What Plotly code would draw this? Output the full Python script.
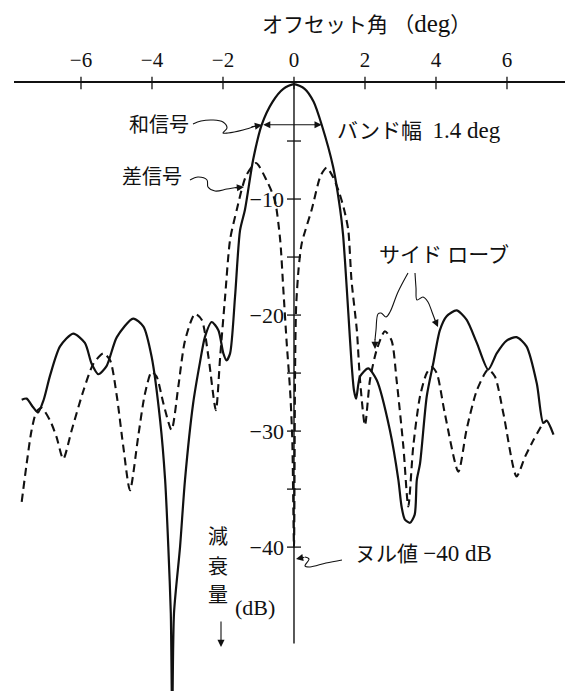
import plotly.graph_objects as go

# Sum pattern (和信号): offset angle in degrees and attenuation in dB
SUM_DEG = [-7.67, -7.53, -7.36, -7.21, -7.05, -6.87, -6.59, -6.22, -5.89, -5.70,
           -5.51, -5.28, -4.99, -4.53, -4.24, -4.01, -3.77, -3.63, -3.54, -3.47,
           -3.43, -3.38, -3.21, -3.07, -2.84, -2.65, -2.51, -2.32, -2.13, -1.99,
           -1.90, -1.80, -1.66, -1.52, -1.38, -1.15, -0.91, -0.60, -0.30, 0.00,
           0.30, 0.55, 0.78, 1.10, 1.30, 1.38, 1.44, 1.53, 1.62, 1.69,
           1.75, 1.86, 2.09, 2.33, 2.70, 2.94, 3.03, 3.12, 3.27, 3.40,
           3.46, 3.55, 3.74, 3.92, 4.11, 4.30, 4.58, 4.86, 5.15, 5.47,
           5.71, 5.99, 6.27, 6.55, 6.84, 7.02, 7.12, 7.31]
SUM_DB = [-27.3, -27.2, -27.9, -28.4, -27.3, -25.2, -22.7, -21.6, -22.4, -24.2,
          -25.1, -24.4, -21.9, -20.3, -21.0, -23.6, -29.1, -34.2, -40.0, -45.7,
          -55.0, -45.7, -40.0, -34.2, -27.6, -24.1, -21.9, -20.6, -21.3, -23.3,
          -23.9, -23.3, -18.4, -12.7, -10.9, -6.6, -3.6, -1.6, -0.5, -0.1,
          -0.5, -1.6, -3.6, -7.2, -10.9, -13.0, -15.5, -19.8, -24.1, -26.5,
          -27.2, -25.3, -24.6, -25.6, -29.9, -34.2, -36.5, -37.6, -37.9, -37.2,
          -34.2, -32.8, -27.0, -24.2, -21.3, -20.1, -19.6, -20.4, -22.4, -24.7,
          -23.3, -22.2, -21.9, -22.7, -25.9, -29.3, -29.1, -30.3]

# Difference pattern (差信号)
DIFF_DEG = [-7.67, -7.53, -7.39, -7.25, -7.11, -6.87, -6.69, -6.50, -6.26, -5.93,
            -5.65, -5.37, -5.18, -4.99, -4.81, -4.62, -4.39, -4.20, -4.01, -3.87,
            -3.68, -3.45, -3.26, -3.07, -2.79, -2.60, -2.41, -2.20, -2.08, -1.94,
            -1.80, -1.61, -1.35, -1.07, -0.77, -0.54, -0.39, -0.30, -0.21, -0.11,
            -0.05, 0.00, 0.03, 0.06, 0.13, 0.22, 0.50, 0.75, 0.92, 1.10,
            1.28, 1.42, 1.53, 1.62, 1.77, 1.86, 2.00, 2.14, 2.33, 2.56,
            2.75, 2.89, 3.08, 3.22, 3.36, 3.55, 3.74, 3.88, 4.02, 4.25,
            4.63, 4.86, 5.15, 5.47, 5.66, 5.90, 6.27, 6.51, 6.74, 6.98]
DIFF_DB = [-36.1, -32.8, -29.9, -28.3, -28.0, -29.1, -30.5, -32.4, -29.9, -26.5,
           -24.2, -23.3, -23.9, -27.0, -31.3, -35.1, -30.5, -26.8, -24.9, -25.3,
           -27.6, -29.9, -26.2, -22.2, -19.9, -20.4, -23.6, -28.2, -23.6, -18.4,
           -13.5, -10.9, -8.0, -6.9, -8.4, -10.1, -13.5, -17.8, -22.2, -26.5,
           -30.5, -40.0, -25.0, -19.3, -16.0, -13.8, -10.9, -8.0, -7.3, -8.1,
           -9.5, -11.0, -12.7, -17.0, -21.3, -25.6, -29.5, -25.6, -23.0, -21.4,
           -22.2, -25.6, -31.3, -36.5, -31.3, -27.0, -25.0, -24.5, -25.0, -28.5,
           -33.5, -29.9, -26.5, -24.7, -25.3, -28.5, -33.9, -32.2, -30.8, -29.5]

X_TICKS = [-6, -4, -2, 0, 2, 4, 6]
X_TICK_TEXT = ["−6", "−4", "−2", "0", "2", "4", "6"]
Y_TICKS = [-10, -20, -30, -40]
Y_TICK_TEXT = ["−10", "−20", "−30", "−40"]
Y_MARKS = [-5, -10, -15, -20, -25, -30, -35, -40]
Y_AXIS_END = -48.3

BANDWIDTH_DEG = 1.4
BAND_LEVEL_DB = -3.6
BAND_EDGES = [-0.91, 0.78]
NULL_DB = -40

# Page geometry
W, H = 568, 691
M_L, M_R, M_T, M_B = 14, 3, 83, 0
X_RANGE = [-7.887, 7.634]
Y_RANGE = [-52.4, 0.0]

INK = "#111111"
FONT = "Liberation Serif, 'Noto Sans CJK JP', serif"


def to_data(px, py):
    """Page pixel position -> axis units (for leader lines)."""
    x = X_RANGE[0] + (px - M_L) / (W - M_L - M_R) * (X_RANGE[1] - X_RANGE[0])
    y = Y_RANGE[1] - (py - M_T) / (H - M_T - M_B) * (Y_RANGE[1] - Y_RANGE[0])
    return x, y


def to_paper(px, py):
    """Page pixel position -> paper fractions of the plot area."""
    return ((px - M_L) / (W - M_L - M_R), (H - M_B - py) / (H - M_T - M_B))


fig = go.Figure()

# vertical attenuation axis at 0 deg
fig.add_trace(go.Scatter(x=[0, 0], y=[0, Y_AXIS_END], mode="lines",
                         line=dict(color=INK, width=1.4), hoverinfo="skip"))
# crossing tick marks
fig.add_trace(go.Scatter(x=X_TICKS, y=[0] * len(X_TICKS), mode="markers",
                         marker=dict(symbol="line-ns", size=9,
                                     line=dict(color=INK, width=1.3)),
                         cliponaxis=False, hoverinfo="skip"))
fig.add_trace(go.Scatter(x=[0] * len(Y_MARKS), y=Y_MARKS, mode="markers",
                         marker=dict(symbol="line-ew", size=10,
                                     line=dict(color=INK, width=1.3)),
                         hoverinfo="skip"))

# patterns
fig.add_trace(go.Scatter(x=DIFF_DEG, y=DIFF_DB, mode="lines", name="差信号",
                         line=dict(color=INK, width=2.1, dash="8px,5px",
                                   shape="spline", smoothing=0.7)))
fig.add_trace(go.Scatter(x=SUM_DEG, y=SUM_DB, mode="lines", name="和信号",
                         line=dict(color=INK, width=2.2,
                                   shape="spline", smoothing=0.7)))

# curved leader lines
LEADERS = [
    [(193, 124), (201, 121), (213, 120), (223, 122), (227, 128), (223, 133),
     (228, 133), (243, 130), (256, 126)],
    [(190, 180), (198, 177), (207, 180), (208, 187), (215, 191), (227, 189),
     (238, 187)],
    [(408, 273), (398, 292), (390, 312), (386, 317), (381, 313), (378, 314),
     (376, 330), (375, 340)],
    [(415, 273), (416, 288), (417, 300), (423, 297), (428, 302), (432, 312),
     (435, 320)],
    [(342, 560), (326, 563), (310, 567), (305, 566), (309, 559), (305, 557)],
]
for pts in LEADERS:
    xs, ys = zip(*[to_data(px, py) for px, py in pts])
    fig.add_trace(go.Scatter(x=xs, y=ys, mode="lines",
                             line=dict(color=INK, width=1.1, shape="spline"),
                             cliponaxis=False, hoverinfo="skip"))

annotations = []


def arrow_head(tip, tail):
    tx, ty = to_paper(*tip)
    annotations.append(dict(x=tx, y=ty, xref="paper", yref="paper", text="",
                            showarrow=True, arrowhead=2, arrowsize=1.3,
                            arrowwidth=1.1, arrowcolor=INK,
                            ax=tail[0] - tip[0], ay=tail[1] - tip[1]))


arrow_head((262, 125), (250, 127))
arrow_head((244, 187), (234, 188))
arrow_head((375, 349), (375, 338))
arrow_head((438, 327), (434, 318))
arrow_head((296, 559), (306, 557))
arrow_head((221, 647), (221, 620))

# bandwidth double arrow between the half-power points
annotations.append(dict(x=BAND_EDGES[1], y=BAND_LEVEL_DB, ax=BAND_EDGES[0],
                        ay=BAND_LEVEL_DB, xref="x", yref="y", axref="x", ayref="y",
                        text="", showarrow=True, arrowhead=2, arrowside="end+start",
                        arrowsize=1.3, arrowwidth=1.1, arrowcolor=INK))


def label(text, px, py, size=20, anchor="center"):
    x, y = to_paper(px, py)
    annotations.append(dict(x=x, y=y, xref="paper", yref="paper", text=text,
                            showarrow=False, xanchor=anchor, yanchor="middle",
                            font=dict(family=FONT, size=size, color=INK)))


label("オフセット角 （<span style='font-size:25px'>deg</span>）", 366, 24, size=21)
label("和信号", 159, 125)
label("差信号", 152, 177)
label(f"バンド幅  <span style='font-size:23px'>{BANDWIDTH_DEG} deg</span>",
      335, 130, size=21, anchor="left")
label("サイド ローブ", 377, 255, size=21, anchor="left")
label(f"ヌル値 <span style='font-size:23px'>−{abs(NULL_DB)} dB</span>",
      353, 553, size=21, anchor="left")
label("減", 218, 537)
label("衰", 218, 567)
label("量", 218, 595)
label("(dB)", 255, 607, size=22)

axis_pos = (0 - X_RANGE[0]) / (X_RANGE[1] - X_RANGE[0])

fig.update_layout(
    width=W, height=H,
    margin=dict(l=M_L, r=M_R, t=M_T, b=M_B, pad=0),
    paper_bgcolor="white", plot_bgcolor="white",
    showlegend=False,
    annotations=annotations,
    font=dict(family=FONT, color=INK),
    xaxis=dict(range=X_RANGE, side="top", tickvals=X_TICKS, ticktext=X_TICK_TEXT,
               showline=True, linecolor=INK, linewidth=1.5, ticks="",
               showgrid=False, zeroline=False, ticklabelstandoff=6,
               tickfont=dict(family=FONT, size=21, color=INK), fixedrange=True),
    yaxis=dict(range=Y_RANGE, anchor="free", position=axis_pos, side="left",
               tickvals=Y_TICKS, ticktext=Y_TICK_TEXT, ticks="", showline=False,
               showgrid=False, zeroline=False, ticklabelstandoff=10,
               tickfont=dict(family=FONT, size=22, color=INK), fixedrange=True),
)

fig.write_html("out.html")
